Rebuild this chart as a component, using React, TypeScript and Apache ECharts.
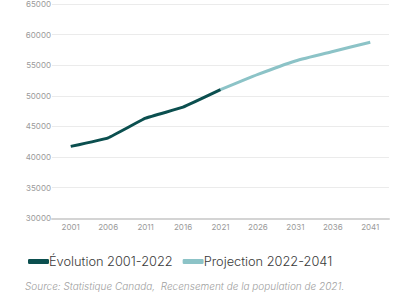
import React, { useEffect, useRef } from "react";
import * as echarts from "echarts";

const years = ["2001", "2006", "2011", "2016", "2021", "2026", "2031", "2036", "2041"];
const evolution = [41750, 43150, 46350, 48150, 51000, null, null, null, null];
const projection = [null, null, null, null, 51000, 53500, 55700, 57250, 58750];
const yTicks = { min: 30000, max: 65000, interval: 5000 };
const seriesNames = ["Évolution 2001-2022", "Projection 2022-2041"];
const sourceText = "Source: Statistique Canada,  Recensement de la population de 2021.";

const DARK = "#0b4f4f";
const LIGHT = "#8cc3c7";

export default function App() {
  const ref = useRef<HTMLDivElement>(null);
  useEffect(() => {
    document.body.style.margin = "0";
    const chart = echarts.init(ref.current!, null, { renderer: "svg" });
    chart.setOption({
      animation: false,
      textStyle: { fontFamily: "Inter" },
      grid: { left: 52, right: 10, top: 0, bottom: 84.7, containLabel: false },
      legend: {
        left: 23,
        top: 250,
        itemWidth: 21,
        itemHeight: 5,
        itemGap: 10,
        icon: "roundRect",
        textStyle: { fontSize: 12.8, color: "#3a3a3a", fontFamily: "Inter", fontWeight: 300, padding: [0, 0, 0, -5] },
        data: seriesNames,
      },
      xAxis: {
        type: "category",
        data: years,
        boundaryGap: true,
        axisLine: { show: true, lineStyle: { color: "#d4d4d4", width: 2 } },
        axisTick: { show: false },
        axisLabel: { fontSize: 8, color: "#9a9a9a", margin: 5 },
        splitLine: { show: false },
      },
      yAxis: {
        type: "value",
        min: yTicks.min,
        max: yTicks.max,
        interval: yTicks.interval,
        axisLine: { show: false },
        axisTick: { show: false },
        axisLabel: { fontSize: 8, color: "#9a9a9a", margin: 1, formatter: (v: number) => String(v) },
        splitLine: { lineStyle: { color: "#ebebeb", width: 1 } },
      },
      series: [
        {
          name: seriesNames[0],
          type: "line",
          data: evolution,
          showSymbol: false,
          smooth: 0.1,
          lineStyle: { color: DARK, width: 3 },
          itemStyle: { color: DARK },
          z: 3,
        },
        {
          name: seriesNames[1],
          type: "line",
          data: projection,
          showSymbol: false,
          smooth: 0.2,
          lineStyle: { color: LIGHT, width: 3 },
          itemStyle: { color: LIGHT },
          z: 2,
        },
      ],
      graphic: [
        {
          type: "text",
          left: 25,
          top: 281,
          style: { text: sourceText, fontSize: 10, fontStyle: "italic", fill: "#a0a0a0", fontFamily: "Inter", fontWeight: 300 },
        },
      ],
    });
    return () => chart.dispose();
  }, []);
  return <div ref={ref} style={{ position: "absolute", left: 0, top: 0, width: 399, height: 303 }} />;
}
